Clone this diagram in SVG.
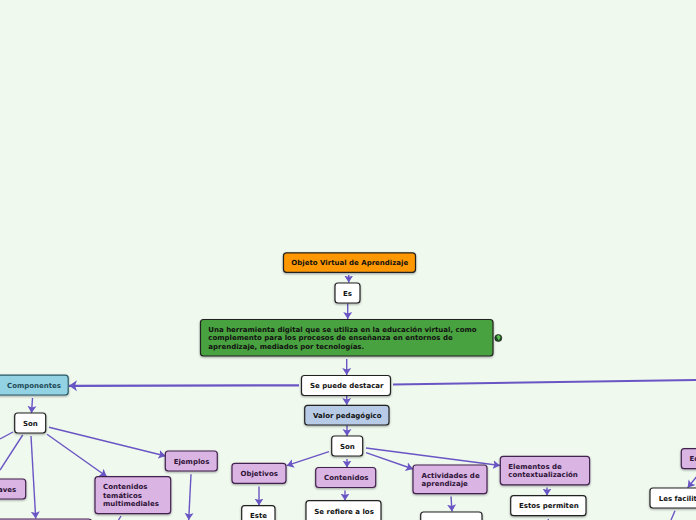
<svg xmlns="http://www.w3.org/2000/svg" width="696" height="520" viewBox="0 0 696 520">
<defs>
<filter id="sh" x="-20%" y="-20%" width="140%" height="150%"><feDropShadow dx="0" dy="1" stdDeviation="0.8" flood-color="#000" flood-opacity="0.35"/></filter>
<marker id="ah" markerUnits="userSpaceOnUse" markerWidth="10" markerHeight="10" refX="7" refY="5" orient="auto"><path d="M0 0.500 L7 5 L0 9.500 L1.500 5Z" fill="#6a55c4"/></marker>
<marker id="ahl" markerUnits="userSpaceOnUse" markerWidth="12" markerHeight="12" refX="8" refY="6" orient="auto"><path d="M0 0.500 L8 6 L0 11.500 L2 6Z" fill="#6a55c4"/></marker>
</defs>
<style>
.n{stroke-width:1.2;filter:url(#sh)}
.w{fill:#fff;stroke:#222}
.p{fill:#dab4e2;stroke:#43224f}
.b{fill:#b7cbe6;stroke:#222}
.t{font:bold 7px "DejaVu Sans",sans-serif;fill:#111}
.pt{fill:#2e1338}
.c{fill:none;stroke:#6a55c4;stroke-width:1.4;marker-end:url(#ah)}
.e{marker-end:none}
</style>
<rect width="696" height="520" fill="#eff9ee"/>
<g id="connectors">
<path class="c" d="M348.700 275V282.500"/>
<path class="c" d="M347.700 303.500V319"/>
<path class="c" d="M346.700 359V375"/>
<path class="c" style="stroke-width:2.200;marker-end:url(#ahl)" d="M299 385.300L69 385.800"/>
<path class="c e" style="stroke-width:2" d="M393 384.500Q520 382 696 380"/>
<path class="c" d="M346.700 396V405"/>
<path class="c" d="M347 425.500V436"/>
<path class="c" d="M329 451.700L286.700 465.700"/>
<path class="c" d="M347 459V467.500"/>
<path class="c" d="M366 452.700L413 469"/>
<path class="c" d="M366 448L500 465.500"/>
<path class="c" d="M259 486.500V505.500"/>
<path class="c" d="M345 490.500V500.500"/>
<path class="c" d="M451 496.500L452 511.500"/>
<path class="c" d="M547 487.500V495.500"/>
<path class="c e" d="M548.300 519V520"/>
<path class="c" d="M32.500 398L31.500 413"/>
<path class="c" d="M49 427.300L165.500 456"/>
<path class="c" d="M47 434.300L106.700 476.500"/>
<path class="c" d="M31 436L35.700 518.500"/>
<path class="c e" d="M22.700 435L0 470"/>
<path class="c e" d="M13 432L0 439"/>
<path class="c e" d="M121 516L118.500 520"/>
<path class="c" d="M191 474.300L188.700 520"/>
<path class="c" d="M696.500 476.700L687.700 487.700"/>
<path class="c e" d="M675 510.700L671 520"/>
</g>
<g id="n-objeto"><rect class="n" x="283.500" y="252.800" width="132" height="19.500" rx="3" fill="#ff9800" stroke="#222"/><text class="t" x="291.300" y="264.500">Objeto Virtual de Aprendizaje</text></g>
<g id="n-es"><rect class="n w" x="335" y="283" width="25" height="20" rx="3"/><text class="t" x="343" y="296">Es</text></g>
<g id="n-herramienta"><rect class="n" x="200.500" y="319.500" width="292.500" height="36.500" rx="3" fill="#4aa23f" stroke="#222"/><text class="t"><tspan x="208.300" y="331.500">Una herramienta digital que se utiliza en la educación virtual, como</tspan><tspan x="208.300" y="340">complemento para los procesos de enseñanza en entornos de</tspan><tspan x="208.300" y="349">aprendizaje, mediados por tecnologías.</tspan></text></g>
<g id="n-globe"><circle cx="498.300" cy="338" r="3.600" fill="#1f4a26" stroke="#111" stroke-width="0.500"/><path d="M496.500 336L499 335L500.500 337L499 340.500L497.500 338.500Z" fill="#5cc04e"/></g>
<g id="n-destacar"><rect class="n w" x="301.500" y="375.500" width="89" height="20" rx="3"/><text class="t" x="310" y="388">Se puede destacar</text></g>
<g id="n-valor"><rect class="n b" x="304.700" y="405.300" width="84.300" height="19.700" rx="3"/><text class="t" x="313" y="418">Valor pedagógico</text></g>
<g id="n-son1"><rect class="n w" x="331.700" y="436" width="31" height="20" rx="3"/><text class="t" x="340" y="449">Son</text></g>
<g id="n-objetivos"><rect class="n p" x="232" y="463.300" width="54" height="20" rx="3"/><text class="t pt" x="240.500" y="476">Objetivos</text></g>
<g id="n-contenidos"><rect class="n p" x="315.700" y="467.500" width="60" height="20" rx="3"/><text class="t pt" x="324" y="480">Contenidos</text></g>
<g id="n-actividades"><rect class="n p" x="413" y="465" width="74" height="28.700" rx="3"/><text class="t pt"><tspan x="421.500" y="478">Actividades de</tspan><tspan x="421.500" y="486">aprendizaje</tspan></text></g>
<g id="n-elementos"><rect class="n p" x="500.300" y="456.300" width="89.300" height="28.500" rx="3"/><text class="t pt"><tspan x="508.300" y="469">Elementos de</tspan><tspan x="508.300" y="477">contextualización</tspan></text></g>
<g id="n-este"><rect class="n w" x="241.700" y="505.700" width="33.300" height="24" rx="3"/><text class="t" x="250" y="518">Este</text></g>
<g id="n-refiere"><rect class="n w" x="306" y="500.700" width="75" height="24" rx="3"/><text class="t" x="314.300" y="513.500">Se refiere a los</text></g>
<g id="n-blank"><rect class="n w" x="420.700" y="512" width="61.300" height="24" rx="3"/></g>
<g id="n-permiten"><rect class="n w" x="510.700" y="495.700" width="75.300" height="20" rx="3"/><text class="t" x="519" y="508">Estos permiten</text></g>
<g id="n-componentes"><rect class="n" x="-4" y="375.200" width="72.200" height="19.800" rx="3" fill="#92d2e2" stroke="#2a5a68"/><text class="t" x="7" y="388" style="fill:#1f4a58">Componentes</text></g>
<g id="n-son2"><rect class="n w" x="14.700" y="413" width="31" height="20" rx="3"/><text class="t" x="23" y="426">Son</text></g>
<g id="n-claves"><rect class="n p" x="-30" y="479" width="55.700" height="20" rx="3"/><text class="t pt" x="-9.500" y="492">Claves</text></g>
<g id="n-tematicos"><rect class="n p" x="95" y="476.700" width="75.700" height="37" rx="3"/><text class="t pt"><tspan x="103" y="489">Contenidos</tspan><tspan x="103" y="498">temáticos</tspan><tspan x="103" y="506">multimediales</tspan></text></g>
<g id="n-ejemplos"><rect class="n p" x="165.300" y="451" width="52" height="20" rx="3"/><text class="t pt" x="173.700" y="464">Ejemplos</text></g>
<g id="n-bottom"><rect x="-10" y="519" width="101.700" height="20" rx="3" fill="#dab4e2" stroke="#43224f" stroke-width="1.200"/></g>
<g id="n-ed"><rect class="n p" x="681.300" y="448.700" width="40" height="20" rx="3"/><text class="t pt" x="689.500" y="461">Ed</text></g>
<g id="n-facilit"><rect class="n w" x="650" y="488" width="70" height="20" rx="3"/><text class="t" x="658.700" y="501">Les facilitan</text></g>
</svg>
